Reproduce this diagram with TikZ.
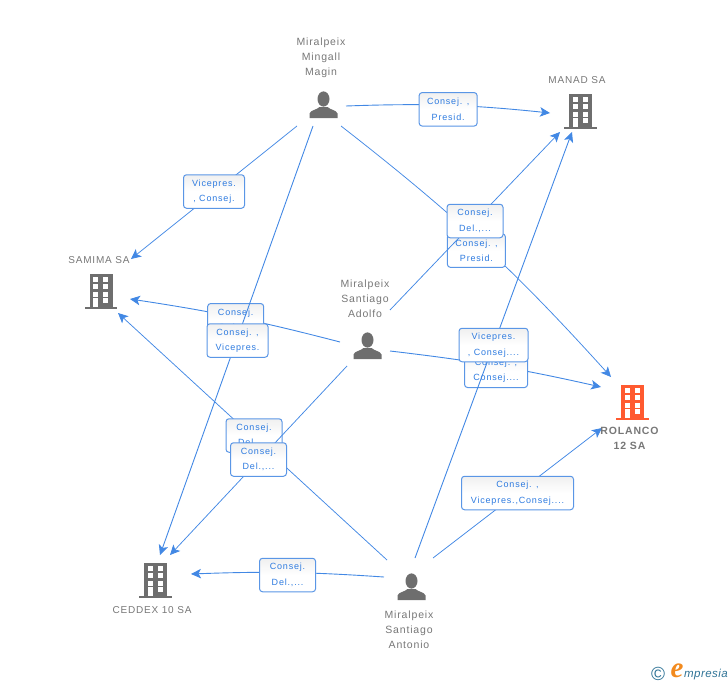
\documentclass[tikz,border=0pt]{standalone}
\usepackage{fontspec}
\setmainfont{Liberation Sans}
\newfontfamily\labfont[LetterSpace=9]{Liberation Sans}
\newfontfamily\namefont[LetterSpace=8]{Liberation Sans}
\newfontfamily\logofont[LetterSpace=4]{Liberation Sans}
\newfontfamily\efont{Liberation Serif}
\usetikzlibrary{arrows.meta,shadings}
\definecolor{edgeblue}{HTML}{4288E4}
\definecolor{textblue}{HTML}{2E7BE0}
\definecolor{boxblue}{HTML}{5A96E6}
\definecolor{icongrey}{HTML}{6E6E6E}
\definecolor{namegrey}{HTML}{777777}
\definecolor{hot}{HTML}{FF5A30}
\definecolor{logoteal}{HTML}{2F7396}
\definecolor{logoorange}{HTML}{F28A1E}
\tikzset{
  conn/.style={draw=edgeblue,line width=0.9pt,-{Stealth[length=10pt,width=9.5pt,inset=2.5pt]}},
  connthin/.style={conn,line width=0.75pt},
  labelbox/.style={draw=boxblue,line width=1pt,rounded corners=3pt,top color=black!6,bottom color=white,middle color=white,
    text=textblue,align=center,inner sep=0pt,font=\labfont\fontsize{9}{15.5}\selectfont,minimum height=33.5pt},
  entity/.style={text=namegrey,align=center,inner sep=0pt,font=\namefont\fontsize{10.5}{15}\selectfont},
  company/.style={entity,font=\namefont\fontsize{10}{15}\selectfont},
  building/.pic={
    \fill[pic actions] (-11,-17) rectangle (12,15.5);
    \fill[pic actions] (-16,15.5) rectangle (16.5,17.5);
    \foreach \yy in {-14.5,-7,0.5}{
      \fill[white] (-7.5,\yy) rectangle (-2.5,\yy+5);
      \fill[white] (2.5,\yy) rectangle (7.5,\yy+5);
    }
    \fill[white] (-7.5,7) rectangle (-2.5,15.5);
    \fill[white] (2.5,7) rectangle (7.5,12);
  },
  person/.pic={
    \fill[pic actions] (0,-6) ellipse (6 and 7.6);
    \fill[pic actions] (-14,13) -- (-14,8.5) .. controls (-13,5) and (-7,5) .. (-4,2) -- (4,2)
       .. controls (7,5) and (13,5) .. (14,8.5) -- (14,13) -- cycle;
  }
}
\begin{document}
\begin{tikzpicture}[x=1pt,y=-1pt]
\useasboundingbox (0,0) rectangle (728,685);
% anchor points of the connectors
\coordinate (maginA) at (346,106);
\coordinate (maginB) at (297,126);
\coordinate (maginC) at (313,126);
\coordinate (maginD) at (341,126);
\coordinate (adolfoA) at (390,310);
\coordinate (adolfoB) at (340,342);
\coordinate (adolfoC) at (390,351);
\coordinate (adolfoD) at (347,366);
\coordinate (antonioA) at (387,560);
\coordinate (antonioB) at (415,558);
\coordinate (antonioC) at (433,558);
\coordinate (antonioD) at (384,577);
\coordinate (manadA) at (550,113);
\coordinate (manadB) at (560,132);
\coordinate (manadC) at (572,132);
\coordinate (samimaA) at (131,259);
\coordinate (samimaB) at (130,299);
\coordinate (samimaC) at (118,313);
\coordinate (rolancoA) at (611,377);
\coordinate (rolancoB) at (601,387);
\coordinate (rolancoC) at (602,428);
\coordinate (ceddexA) at (160,555);
\coordinate (ceddexB) at (170,555);
\coordinate (ceddexC) at (191,574);
% connectors with their labels
\draw[conn] (maginA) to[bend left=4] node[labelbox,minimum width=58pt,yshift=-4pt] (l1) {Consej. ,\\Presid.} (manadA);
\draw[connthin] (maginB) -- node[labelbox,minimum width=61pt,yshift=1pt] (l2) {Vicepres.\\, Consej.} (samimaA);
\draw[connthin] (maginD) to[bend left=5] node[labelbox,minimum width=58pt,xshift=-6pt,yshift=-6pt] (l3) {Consej. ,\\Presid.} (rolancoA);
\draw[connthin] (adolfoA) -- node[labelbox,minimum width=56pt] (l4) {Consej.\\Del.,...} (manadB);
\draw[conn] (adolfoB) to[bend right=3] node[labelbox,minimum width=56pt,yshift=-3pt] (l5) {Consej.\\Del.,...} (samimaB);
\draw[conn] (maginC) -- node[labelbox,minimum width=61pt,xshift=1pt] (l6) {Consej. ,\\Vicepres.} (ceddexA);
\draw[conn] (adolfoC) to[bend left=3] node[labelbox,minimum width=63pt,yshift=-5pt] (l7) {Consej. ,\\Consej....} (rolancoB);
\draw[conn] (antonioB) -- node[labelbox,minimum width=69pt] (l8) {Vicepres.\\, Consej....} (manadC);
\draw[connthin] (antonioA) -- node[labelbox,minimum width=56pt,xshift=1.5pt,yshift=1pt] (l9) {Consej.\\Del.,...} (samimaC);
\draw[connthin] (adolfoD) -- node[labelbox,minimum width=56pt,yshift=1pt] (l10) {Consej.\\Del.,...} (ceddexB);
\draw[connthin] (antonioC) -- node[labelbox,minimum width=112pt] (l11) {Consej. ,\\Vicepres.,Consej....} (rolancoC);
\draw[conn] (antonioD) to[bend right=3] node[labelbox,minimum width=56pt,yshift=-2.5pt] (l12) {Consej.\\Del.,...} (ceddexC);
% icons
\pic[fill=icongrey] at (323.5,105) {person};
\pic[fill=icongrey] at (367.5,346) {person};
\pic[fill=icongrey] at (411.5,587) {person};
\pic[fill=icongrey] at (580,111) {building};
\pic[fill=icongrey] at (100.5,291) {building};
\pic[fill=icongrey] at (155,580) {building};
\pic[fill=hot] at (632,402) {building};
% entity names
\node[entity] (n1) at (321,58) {Miralpeix\\Mingall\\Magin};
\node[entity] (n2) at (365,299) {Miralpeix\\Santiago\\Adolfo};
\node[entity] (n3) at (409,630) {Miralpeix\\Santiago\\Antonio};
\node[company] (n4) at (577,80) {MANAD SA};
\node[company] (n5) at (99,260) {SAMIMA SA};
\node[company] (n6) at (152,610) {CEDDEX 10 SA};
\node[entity,font=\namefont\bfseries\fontsize{10.5}{15}\selectfont] (n7) at (629.5,438) {ROLANCO\\12 SA};
% logo
\node[inner sep=0pt,text=logoteal,font=\fontsize{19}{19}\selectfont] (c) at (658,674) {\textcopyright};
\node[inner sep=0pt,text=logoorange,font=\efont\itshape\bfseries\fontsize{29}{29}\selectfont] (e) at (677,671) {e};
\node[inner sep=0pt,text=logoteal,anchor=west,font=\logofont\itshape\fontsize{11.5}{12}\selectfont] (m) at (684,675) {mpresia};
\end{tikzpicture}
\end{document}
